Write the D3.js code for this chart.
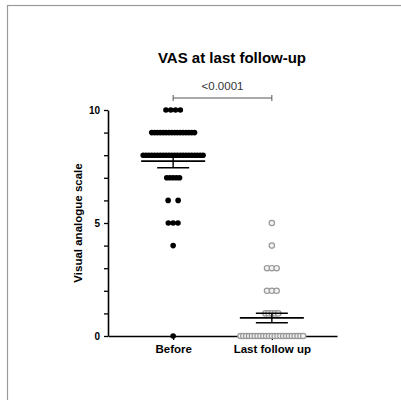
<!DOCTYPE html>
<html>
<head>
<meta charset="utf-8">
<script src="https://cdn.jsdelivr.net/npm/d3@7"></script>
<style>
  body { margin: 0; background: #fff; }
  svg { font-family: Arial, "Liberation Sans", sans-serif; }
</style>
</head>
<body>
<svg width="401" height="400"></svg>
<script>
// data
var categories = ["Before", "Last follow up"];
var scoreLevels = [10, 9, 8, 7, 6, 5, 4, 3, 2, 1, 0];
var beforeCounts = [4, 16, 22, 5, 2, 3, 1, 0, 0, 0, 1];
var lastCounts = [0, 0, 0, 0, 0, 1, 1, 3, 3, 5, 23];
var means = [7.74, 0.80];
var sems = [0.30, 0.21];
var yTicks = [0, 1, 2, 3, 4, 5, 6, 7, 8, 9, 10];
var yLabels = [0, 5, 10];
var pText = "<0.0001";

var svg = d3.select("svg");

svg.append("rect")
  .attr("x", 7.5).attr("y", 5.5)
  .attr("width", 400).attr("height", 400)
  .attr("fill", "none")
  .attr("stroke", "#9a9a9a")
  .attr("stroke-width", 1.2);

var y = d3.scaleLinear().domain([0, 10]).range([336, 110]);
var x = d3.scalePoint().domain(categories).range([108, 337]).padding(0.66);

// y axis
var yAxis = svg.append("g")
  .attr("transform", "translate(108,0)")
  .call(d3.axisLeft(y)
    .tickValues(yTicks)
    .tickSize(4)
    .tickSizeOuter(0)
    .tickPadding(4)
    .tickFormat(function (d) { return yLabels.indexOf(d) >= 0 ? d : ""; }));
yAxis.select(".domain").attr("stroke-width", 1.6);
yAxis.selectAll(".tick line").attr("stroke-width", 1.3);
yAxis.selectAll("text")
  .attr("font-size", 10)
  .attr("font-weight", "bold")
  .attr("fill", "#000");

// x axis
var xAxis = svg.append("g")
  .attr("transform", "translate(0,336)")
  .call(d3.axisBottom(x).tickSize(4).tickSizeOuter(0).tickPadding(5));
xAxis.select(".domain").attr("stroke-width", 1.6);
xAxis.selectAll(".tick line").attr("stroke-width", 1.3);
xAxis.selectAll("text")
  .attr("font-size", 11.5)
  .attr("font-weight", "bold")
  .attr("fill", "#000");

// axis title
svg.append("text")
  .attr("transform", "translate(81.5," + y(5) + ") rotate(-90)")
  .attr("text-anchor", "middle")
  .attr("font-size", 11.5)
  .attr("font-weight", "bold")
  .text("Visual analogue scale");

// title
svg.append("text")
  .attr("x", 232).attr("y", 63)
  .attr("text-anchor", "middle")
  .attr("font-size", 15)
  .attr("font-weight", "bold")
  .text("VAS at last follow-up");

// significance bracket
var bx0 = x(categories[0]), bx1 = x(categories[1]);
var br = svg.append("g").attr("stroke", "#555").attr("stroke-width", 1);
br.append("line").attr("x1", bx0).attr("x2", bx1).attr("y1", 98).attr("y2", 98);
br.append("line").attr("x1", bx0).attr("x2", bx0).attr("y1", 95).attr("y2", 101);
br.append("line").attr("x1", bx1).attr("x2", bx1).attr("y1", 95).attr("y2", 101);
svg.append("text")
  .attr("x", (bx0 + bx1) / 2).attr("y", 90)
  .attr("text-anchor", "middle")
  .attr("font-size", 11.5)
  .attr("fill", "#333")
  .text(pText);

// spread dots of equal value horizontally
function spacing(k) {
  if (k === 2) return 10;
  if (k <= 4) return 4.8;
  if (k <= 6) return 3.2;
  return 2.85;
}
function points(cat, counts) {
  var pts = [];
  counts.forEach(function (k, i) {
    var s = spacing(k);
    for (var j = 0; j < k; j++) {
      pts.push({ cat: cat, v: scoreLevels[i], off: (j - (k - 1) / 2) * s });
    }
  });
  return pts;
}

svg.append("g").selectAll("circle")
  .data(points(categories[0], beforeCounts))
  .enter().append("circle")
  .attr("cx", function (d) { return x(d.cat) + d.off; })
  .attr("cy", function (d) { return y(d.v); })
  .attr("r", 2.8)
  .attr("fill", "#000");

svg.append("g").selectAll("circle")
  .data(points(categories[1], lastCounts))
  .enter().append("circle")
  .attr("cx", function (d) { return x(d.cat) + d.off; })
  .attr("cy", function (d) { return y(d.v); })
  .attr("r", 2.7)
  .attr("fill", "#f2f2f2")
  .attr("stroke", "#999")
  .attr("stroke-width", 1.2);

// mean and SEM
var summary = svg.append("g").attr("stroke", "#000");
categories.forEach(function (c, i) {
  var cx = x(c);
  summary.append("line")
    .attr("x1", cx - 32).attr("x2", cx + 32)
    .attr("y1", y(means[i])).attr("y2", y(means[i]))
    .attr("stroke-width", 1.7);
  summary.append("line")
    .attr("x1", cx).attr("x2", cx)
    .attr("y1", y(means[i] - sems[i])).attr("y2", y(means[i] + sems[i]))
    .attr("stroke-width", 1.4);
  [means[i] - sems[i], means[i] + sems[i]].forEach(function (v) {
    summary.append("line")
      .attr("x1", cx - 16).attr("x2", cx + 16)
      .attr("y1", y(v)).attr("y2", y(v))
      .attr("stroke-width", 1.5);
  });
});
</script>
</body>
</html>
